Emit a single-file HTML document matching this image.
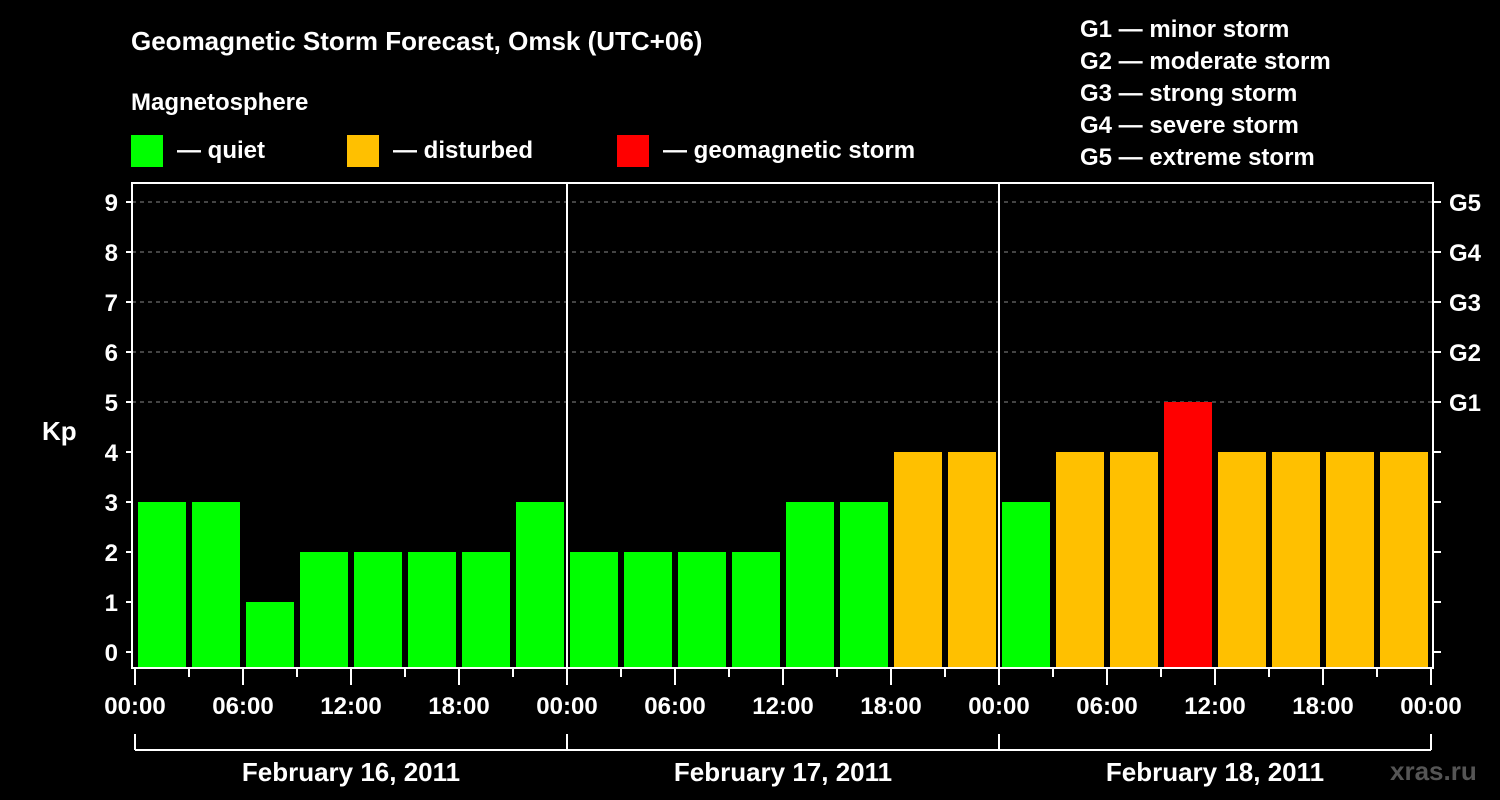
<!DOCTYPE html>
<html><head><meta charset="utf-8"><style>
html,body{margin:0;padding:0;background:#000;}
svg{display:block;font-family:"Liberation Sans",sans-serif;font-weight:bold;}
</style></head><body>
<svg id="c" width="1500" height="800" viewBox="0 0 1500 800">
<rect width="1500" height="800" fill="#000"/>
<text x="131" y="50" fill="#fff" font-size="26">Geomagnetic Storm Forecast, Omsk (UTC+06)</text>
<text x="131" y="110" fill="#fff" font-size="24">Magnetosphere</text>
<g><rect x="131" y="135" width="32" height="32" fill="#00ff00"/><text x="177" y="158" fill="#fff" font-size="24">— quiet</text></g>
<g><rect x="347" y="135" width="32" height="32" fill="#ffc000"/><text x="393" y="158" fill="#fff" font-size="24">— disturbed</text></g>
<g><rect x="617" y="135" width="32" height="32" fill="#ff0000"/><text x="663" y="158" fill="#fff" font-size="24">— geomagnetic storm</text></g>
<g fill="#fff" font-size="24">
<text x="1080" y="37">G1 — minor storm</text>
<text x="1080" y="69">G2 — moderate storm</text>
<text x="1080" y="101">G3 — strong storm</text>
<text x="1080" y="133">G4 — severe storm</text>
<text x="1080" y="165">G5 — extreme storm</text>
</g>
<text x="42" y="440" fill="#fff" font-size="26">Kp</text>
<text x="1390" y="780" fill="#555" font-size="26">xras.ru</text>
<g id="plot"></g>
</svg>
<script>
const values=[3,3,1,2,2,2,2,3, 2,2,2,2,3,3,4,4, 3,4,4,5,4,4,4,4];
const days=["February 16, 2011","February 17, 2011","February 18, 2011"];
const yTicks=[0,1,2,3,4,5,6,7,8,9];
const gLabels=["G1","G2","G3","G4","G5"];
const xLabels=["00:00","06:00","12:00","18:00"];
const NS="http://www.w3.org/2000/svg";
const g=document.getElementById('plot');
const L=132,R=1433,T=183,B=668,X0=135,DAY=432;
const slot=DAY/8;
const y=v=>652-50*v;
const x=i=>X0+i*slot;
function el(t,a){const e=document.createElementNS(NS,t);for(const k in a)e.setAttribute(k,a[k]);g.appendChild(e);return e;}
// grid
for(const v of yTicks){ if(v>=5){const ln=el('line',{x1:L,x2:R,y1:y(v),y2:y(v),stroke:'#888','stroke-dasharray':'4,4','stroke-width':1});

}}
// bars
values.forEach((v,i)=>{const c=v>=5?'#ff0000':(v>=4?'#ffc000':'#00ff00');
const r=el('rect',{x:x(i)+3,y:y(v),width:slot-6,height:B-y(v),fill:c});

});
// axes frame
const fr=el('rect',{x:L,y:T,width:R-L,height:B-T,fill:'none',stroke:'#fff','stroke-width':2});


for(let d=1;d<days.length;d++){const ln=el('line',{x1:X0+d*DAY,x2:X0+d*DAY,y1:T,y2:B,stroke:'#fff','stroke-width':2});

}
// y ticks
for(const v of yTicks){
el('line',{x1:L-6,x2:L,y1:y(v),y2:y(v),stroke:'#fff','stroke-width':2});
el('line',{x1:R,x2:R+8,y1:y(v),y2:y(v),stroke:'#fff','stroke-width':2});
const t=el('text',{x:L-14,y:y(v)+9,fill:'#fff','font-size':24,'text-anchor':'end'});t.textContent=v;

}
gLabels.forEach((s,i)=>{const t=el('text',{x:1449,y:y(5+i)+9,fill:'#fff','font-size':24});t.textContent=s;

});
// x ticks
for(let i=0;i<=values.length;i++){const long=i%2===0;
el('line',{x1:x(i),x2:x(i),y1:B,y2:B+(long?17:9),stroke:'#fff','stroke-width':2});
if(long){const t=el('text',{x:x(i),y:B+46,fill:'#fff','font-size':24,'text-anchor':'middle'});t.textContent=xLabels[(i/2)%4];

}}
// day brackets
el('line',{x1:X0,x2:X0+DAY*days.length,y1:750,y2:750,stroke:'#fff','stroke-width':2});
for(let d=0;d<=days.length;d++)el('line',{x1:X0+d*DAY,x2:X0+d*DAY,y1:734,y2:750,stroke:'#fff','stroke-width':2});
days.forEach((s,d)=>{const t=el('text',{x:X0+d*DAY+DAY/2,y:781,fill:'#fff','font-size':26,'text-anchor':'middle'});t.textContent=s;

});
</script>
</body></html>
